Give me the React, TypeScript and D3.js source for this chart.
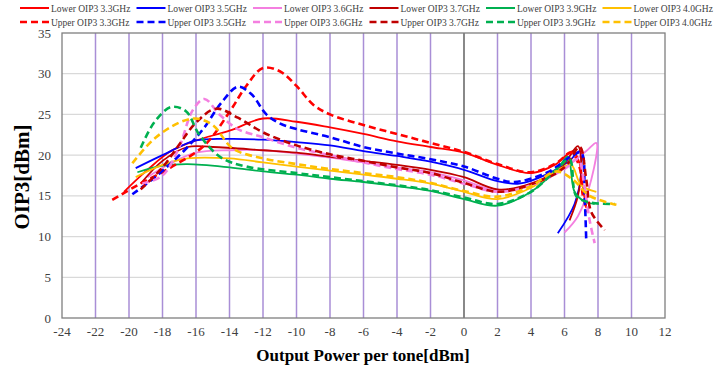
import * as d3 from "d3";
import { useEffect, useRef } from "react";

// legend / series order
const seriesNames = [
  "Lower OIP3 3.3GHz", "Lower OIP3 3.5GHz", "Lower OIP3 3.6GHz",
  "Lower OIP3 3.7GHz", "Lower OIP3 3.9GHz", "Lower OIP3 4.0GHz",
  "Upper OIP3 3.3GHz", "Upper OIP3 3.5GHz", "Upper OIP3 3.6GHz",
  "Upper OIP3 3.7GHz", "Upper OIP3 3.9GHz", "Upper OIP3 4.0GHz",
];
const seriesColors = ["#FF0000", "#0000FF", "#F47FE0", "#C00000", "#00B050", "#FFC000"];

const xTicks = d3.range(-24, 13, 2);
const yTicks = d3.range(0, 36, 5);

// [output power, OIP3]
const lower33 = [[-20.3, 15.5], [-19, 18], [-17.5, 20.5], [-16, 21.8], [-14, 23], [-12, 24.5], [-10, 24.1], [-8, 23.4], [-6, 22.6], [-4, 21.7], [-2, 21], [0, 20.3], [2, 18.8], [4, 17.8], [5.5, 18.9], [6.5, 20.5], [6.9, 19], [7.1, 16], [7.3, 13.5]];
const lower35 = [[-19.6, 18.4], [-18, 20], [-16, 21.8], [-14, 22], [-12, 21.9], [-10, 21.6], [-8, 21.2], [-6, 20.5], [-4, 19.9], [-2, 19.2], [0, 18.2], [2, 16.8], [3.3, 16.5], [5, 17.7], [6.3, 19.3], [6.9, 20.5], [7, 18], [6.6, 14], [5.6, 10.4]];
const lower36 = [[-18.9, 17.3], [-17.5, 19], [-16, 20.3], [-14, 20.6], [-12, 20.6], [-10, 20.2], [-8, 19.7], [-6, 19.1], [-4, 18.5], [-2, 17.9], [0, 16.9], [2, 15.6], [4, 16.5], [6, 18.5], [7.3, 20.5], [7.9, 21.5], [7.6, 17], [6.8, 12.5], [6, 10.5]];
const lower37 = [[-19.3, 16.5], [-18, 19.3], [-16.5, 21], [-15, 21], [-12, 20.6], [-10, 20.3], [-8, 19.8], [-6, 19.3], [-4, 18.8], [-2, 18.2], [0, 17.3], [2, 15.8], [4, 16.5], [5.8, 18.5], [6.8, 21.1], [7, 19], [6.8, 15], [6.3, 12]];
const lower39 = [[-19.5, 17.9], [-18, 18.7], [-16.5, 18.9], [-14, 18.5], [-12, 18], [-10, 17.6], [-8, 17.1], [-6, 16.7], [-4, 16.2], [-2, 15.6], [0, 14.6], [2, 13.8], [4, 15.5], [5.6, 18.4], [6.2, 19.8], [6.6, 15.5], [7.2, 14.3], [7.8, 14]];
const lower40 = [[-19.6, 17.3], [-18, 18.8], [-16.5, 19.6], [-14, 19.6], [-12, 19.1], [-10, 18.6], [-8, 18.1], [-6, 17.6], [-4, 17.1], [-2, 16.5], [0, 15.5], [2, 14.6], [4, 16], [5.8, 18.4], [6.4, 18.8], [7, 16.3], [7.9, 15.5]];
const upper33 = [[-21, 14.5], [-19.5, 16.3], [-17.5, 18.5], [-15.5, 21.2], [-14, 25.3], [-13, 28.5], [-12, 30.7], [-11, 30.3], [-10, 28.5], [-9, 26.2], [-8, 25], [-6, 23.7], [-4, 22.6], [-2, 21.5], [0, 20.4], [2, 18.9], [4, 17.9], [5.5, 19], [6.4, 20.3], [6.9, 18.5], [7.1, 15], [7.4, 13]];
const upper35 = [[-19.8, 15.2], [-18.5, 17.2], [-17.5, 19], [-16.5, 21], [-15.5, 23.4], [-14.5, 26.4], [-13.5, 28.4], [-12.7, 27.5], [-11.8, 25], [-11, 23.9], [-10, 23.2], [-8, 22.2], [-6, 21], [-4, 20.2], [-2, 19.5], [0, 18.6], [2, 17.1], [3, 16.7], [5, 17.9], [6.5, 20], [7, 20.3], [7.2, 15], [7.3, 9.3]];
const upper36 = [[-19.2, 16.5], [-18, 17.5], [-17, 21], [-16.2, 25.5], [-15.5, 26.9], [-14.6, 25], [-13.5, 23.2], [-12, 22.2], [-10, 20.9], [-8, 20], [-6, 19.1], [-4, 18.3], [-2, 17.6], [0, 16.5], [2, 15.5], [4, 16.3], [6, 18.3], [6.8, 19.5], [7.2, 16], [7.5, 12], [7.8, 9.2]];
const upper37 = [[-19.3, 15.8], [-18, 18.5], [-17, 21.3], [-16, 24], [-14.8, 25.7], [-13.5, 24.6], [-12, 22.8], [-10, 21.2], [-8, 20.1], [-6, 19.3], [-4, 18.5], [-2, 17.8], [0, 16.6], [2, 15.5], [4, 16.4], [6, 18.5], [6.9, 21], [7.3, 17], [7.6, 13], [8.4, 10.8]];
const upper39 = [[-19.3, 20.9], [-18.5, 24], [-17.5, 25.9], [-16.6, 25.4], [-15.8, 22.5], [-14.5, 19.7], [-13, 18.6], [-10, 17.8], [-8, 17.3], [-6, 16.8], [-4, 16.3], [-2, 15.7], [0, 14.8], [2, 14], [4, 15.5], [5.6, 18.4], [6.3, 19.5], [6.7, 15], [7.5, 14.2], [9, 14]];
const upper40 = [[-19.8, 19], [-18.5, 22], [-17, 24], [-16, 24.5], [-15, 23.7], [-13.8, 20.8], [-12, 19.6], [-10, 18.9], [-8, 18.3], [-6, 17.8], [-4, 17.3], [-2, 16.6], [0, 15.6], [2, 14.9], [4, 16.2], [5.5, 18], [6.5, 17], [7.5, 15], [9.1, 13.9]];

const seriesData = [lower33, lower35, lower36, lower37, lower39, lower40, upper33, upper35, upper36, upper37, upper39, upper40];

const W = 723, H = 371;
const serif = "'Liberation Serif', 'Times New Roman', serif";

export default function App() {
  const svgRef = useRef<SVGSVGElement>(null);

  useEffect(() => {
    const svg = d3.select(svgRef.current);
    svg.selectAll("*").remove();

    const x = d3.scaleLinear().domain([-24, 12]).range([62, 665]);
    const y = d3.scaleLinear().domain([0, 35]).range([318, 33]);

    // horizontal grid
    svg.append("g").selectAll("line").data(yTicks.filter(t => t > 0 && t < 35)).join("line")
      .attr("x1", x(-24)).attr("x2", x(12))
      .attr("y1", d => y(d)).attr("y2", d => y(d))
      .attr("stroke", "#D9D9D9").attr("stroke-width", 1.2);

    // vertical grid
    svg.append("g").selectAll("line").data(xTicks.filter(t => t > -24 && t < 12)).join("line")
      .attr("x1", d => x(d)).attr("x2", d => x(d))
      .attr("y1", y(35)).attr("y2", y(0))
      .attr("stroke", d => d === 0 ? "#3A3A3A" : "#A98ED6")
      .attr("stroke-width", d => d === 0 ? 1.2 : 1.5);

    // plot border
    svg.append("rect")
      .attr("x", x(-24)).attr("y", y(35))
      .attr("width", x(12) - x(-24)).attr("height", y(0) - y(35))
      .attr("fill", "none").attr("stroke", "#7F7F7F").attr("stroke-width", 1.3);

    // tick labels
    svg.append("g").selectAll("text").data(yTicks).join("text")
      .attr("x", x(-24) - 11).attr("y", d => y(d) + 4.5)
      .attr("text-anchor", "end")
      .style("font-family", serif).style("font-size", "13px").attr("fill", "#404040")
      .text(d => d);

    svg.append("g").selectAll("text").data(xTicks).join("text")
      .attr("x", d => x(d)).attr("y", 336)
      .attr("text-anchor", "middle")
      .style("font-family", serif).style("font-size", "13px").attr("fill", "#404040")
      .text(d => d);

    // axis titles
    svg.append("text")
      .attr("x", 363).attr("y", 361)
      .attr("text-anchor", "middle")
      .style("font-family", serif).style("font-size", "17px").style("font-weight", "bold")
      .text("Output Power per tone[dBm]");

    svg.append("text")
      .attr("transform", "translate(29,177) rotate(-90)")
      .attr("text-anchor", "middle")
      .style("font-family", serif).style("font-size", "21px").style("font-weight", "bold")
      .text("OIP3[dBm]");

    const line = d3.line<number[]>()
      .curve(d3.curveCatmullRom.alpha(0.5))
      .x(d => x(d[0]))
      .y(d => y(d[1]));

    seriesData.forEach((pts, i) => {
      const dashed = i >= 6;
      svg.append("path")
        .datum(pts)
        .attr("fill", "none")
        .attr("stroke", seriesColors[i % 6])
        .attr("stroke-width", dashed ? 2.6 : 1.8)
        .attr("stroke-dasharray", dashed ? "7,4" : null)
        .attr("d", line);
    });

    // legend
    const legend = svg.append("g");
    seriesNames.forEach((name, i) => {
      const col = i % 6, row = Math.floor(i / 6);
      const lx = 20 + col * 116.5, ly = 8 + row * 14;
      legend.append("line")
        .attr("x1", lx).attr("x2", lx + 29).attr("y1", ly).attr("y2", ly)
        .attr("stroke", seriesColors[col])
        .attr("stroke-width", row ? 2.6 : 2)
        .attr("stroke-dasharray", row ? "7,4" : null);
      legend.append("text")
        .attr("x", lx + 31).attr("y", ly + 3.5)
        .style("font-family", serif).style("font-size", "9.5px").attr("fill", "#404040")
        .text(name);
    });
  }, []);

  return (
    <svg ref={svgRef} width={W} height={H}
      style={{ position: "absolute", left: 0, top: 0, background: "#fff" }} />
  );
}
